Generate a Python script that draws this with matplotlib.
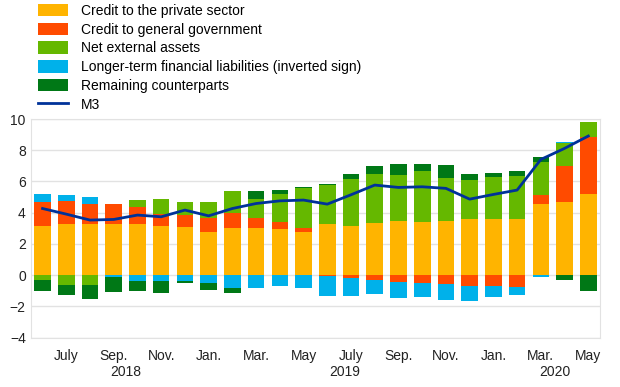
import numpy as np
import matplotlib
matplotlib.use('Agg')
from matplotlib import pyplot as plt
from matplotlib.transforms import blended_transform_factory

plt.rcParams['font.family'] = ['Liberation Sans', 'DejaVu Sans']

# June 2018 .. May 2020, annual growth contributions (percentage points)
months = ['Jun 18', 'Jul 18', 'Aug 18', 'Sep 18', 'Oct 18', 'Nov 18', 'Dec 18',
          'Jan 19', 'Feb 19', 'Mar 19', 'Apr 19', 'May 19', 'Jun 19', 'Jul 19',
          'Aug 19', 'Sep 19', 'Oct 19', 'Nov 19', 'Dec 19',
          'Jan 20', 'Feb 20', 'Mar 20', 'Apr 20', 'May 20']

private = [3.14, 3.31, 3.31, 3.31, 3.31, 3.18, 3.10, 2.78, 3.03, 3.03, 2.93, 2.78,
           3.27, 3.16, 3.35, 3.46, 3.42, 3.46, 3.59, 3.59, 3.59, 4.53, 4.70, 5.19]
government = [1.56, 1.45, 1.26, 1.24, 1.07, 0.77, 0.75, 0.90, 0.96, 0.66, 0.49, 0.26,
              -0.06, -0.21, -0.28, -0.43, -0.53, -0.56, -0.71, -0.71, -0.75, 0.60, 2.31, 3.63]
external = [-0.32, -0.64, -0.60, 0.0, 0.43, 0.92, 0.81, 1.03, 1.41, 1.22, 1.75, 2.52,
            2.50, 2.99, 3.16, 2.93, 3.27, 2.74, 2.50, 2.69, 2.78, 2.12, 1.43, 1.00]
longterm = [0.53, 0.38, 0.41, -0.13, -0.38, -0.36, -0.40, -0.49, -0.81, -0.79, -0.68, -0.85,
            -1.28, -1.13, -0.94, -1.05, -0.88, -1.03, -0.92, -0.70, -0.51, -0.13, 0.06, 0.0]
remaining = [-0.66, -0.60, -0.90, -0.92, -0.60, -0.77, -0.13, -0.43, -0.36, 0.47, 0.28, 0.06,
             0.10, 0.34, 0.47, 0.70, 0.41, 0.88, 0.36, 0.26, 0.30, 0.34, -0.32, -0.98]
m3 = [4.27, 3.91, 3.53, 3.57, 3.85, 3.74, 4.17, 3.80, 4.27, 4.59, 4.76, 4.81,
      4.55, 5.15, 5.77, 5.62, 5.66, 5.56, 4.87, 5.17, 5.45, 7.41, 8.12, 8.91]

tick_pos = [1, 3, 5, 7, 9, 11, 13, 15, 17, 19, 21, 23]
tick_labels = ['July', 'Sep.', 'Nov.', 'Jan.', 'Mar.', 'May',
               'July', 'Sep.', 'Nov.', 'Jan.', 'Mar.', 'May']
years = ['2018', '2019', '2020']
year_pos = [3.5, 12.75, 21.6]

series = [(private, 'Credit to the private sector', '#FFB400'),
          (government, 'Credit to general government', '#FF4B00'),
          (external, 'Net external assets', '#65B800'),
          (longterm, 'Longer-term financial liabilities (inverted sign)', '#00B1EA'),
          (remaining, 'Remaining counterparts', '#007816')]

fig = plt.figure(figsize=(6.2, 3.87), dpi=100)
ax = fig.add_axes([0.0495, 0.1274, 0.9185, 0.5651])

x = np.arange(len(months))
pos_base = np.zeros(len(months))
neg_base = np.zeros(len(months))
handles = []
for vals, label, col in series:
    v = np.array(vals)
    base = np.where(v >= 0, pos_base, neg_base)
    h = ax.bar(x, v, 0.7, bottom=base, color=col, label=label, zorder=2)
    handles.append(h)
    pos_base += np.where(v >= 0, v, 0)
    neg_base += np.where(v < 0, v, 0)

line, = ax.plot(x, m3, color='#003299', lw=2, label='M3', zorder=3)
handles.append(line)

ax.set_xlim(-0.5, 23.5)
ax.set_ylim(-4, 10)
ax.set_yticks(range(-4, 11, 2))
ax.set_xticks(tick_pos)
ax.set_xticklabels(tick_labels)
ax.tick_params(length=0, labelsize=10, colors='#222222')
ax.tick_params(axis='x', pad=8)
ax.grid(axis='y', color='#e2e2e2', lw=1, zorder=0)
for s in ax.spines.values():
    s.set_color('#e2e2e2')

tr = blended_transform_factory(ax.transData, fig.transFigure)
for yr, p in zip(years, year_pos):
    fig.text(p, 0.038, yr, transform=tr, ha='center', va='center', fontsize=10, color='#222222')

fig.legend(handles=handles, loc='upper left', bbox_to_anchor=(0.0527, 1.004), frameon=False,
           fontsize=10, handlelength=2.15, handleheight=1.0, labelspacing=0.34,
           handletextpad=0.94, borderaxespad=0)

fig.savefig('out.png', dpi=100)
